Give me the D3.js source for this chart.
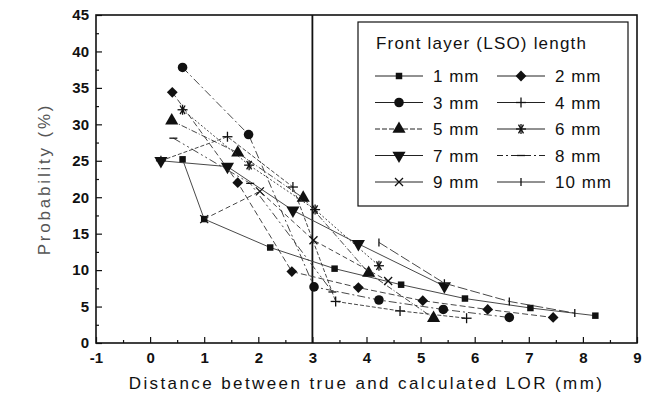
<!DOCTYPE html>
<html>
<head>
<meta charset="utf-8">
<script src="https://cdn.jsdelivr.net/npm/d3@7"></script>
<style>
  body { margin: 0; background: #fff; }
  svg { display: block; font-family: Arial, "Liberation Sans", sans-serif; }
</style>
</head>
<body>
<svg id="chart" width="654" height="407"></svg>
<script>
// 数据：每条曲线 [距离, 概率]
const mm1 = [[0.6, 25.2], [1.0, 17.0], [2.22, 13.1], [3.41, 10.2], [4.64, 8.0], [5.82, 6.1], [7.03, 4.8], [8.23, 3.75]]
const mm2 = [[0.41, 34.4], [1.62, 22.0], [2.62, 9.8], [3.85, 7.6], [5.04, 5.8], [6.24, 4.6], [7.45, 3.5]]
const mm3 = [[0.6, 37.8], [1.82, 28.6], [3.03, 7.7], [4.23, 5.9], [5.42, 4.6], [6.64, 3.5]]
const mm4 = [[0.2, 25.0], [1.43, 28.3], [2.64, 21.4], [3.43, 5.7], [4.62, 4.4], [5.85, 3.4]]
const mm5 = [[0.4, 30.5], [1.62, 26.1], [2.83, 19.9], [4.04, 9.6], [5.24, 3.4]]
const mm6 = [[0.6, 32.0], [1.83, 24.4], [3.05, 18.3], [4.23, 10.6]]
const mm7 = [[0.2, 25.0], [1.43, 24.2], [2.64, 18.2], [3.85, 13.6], [5.44, 7.8]]
const mm8 = [[0.43, 28.1], [1.85, 21.9], [3.37, 7.0]]
const mm9 = [[1.0, 17.0], [2.03, 20.8], [3.02, 14.1], [4.4, 8.5]]
const mm10 = [[4.23, 13.8], [5.44, 8.2], [6.64, 5.7], [7.85, 4.1]]

const seriesNames = ['1 mm', '2 mm', '3 mm', '4 mm', '5 mm', '6 mm', '7 mm', '8 mm', '9 mm', '10 mm']
const seriesData = [mm1, mm2, mm3, mm4, mm5, mm6, mm7, mm8, mm9, mm10]
const markers = ['square', 'diamond', 'circle', 'plus', 'up', 'star', 'down', 'dash', 'cross', 'bar']
// 图中线型（扫描件里多为虚线）
const dashes = ['none', '6,3', '8,3,2,3', '4,2', '6,2,1,2', '2,2', 'none', '8,3,2,3,2,3', '5,3', '10,3']
// 图例里的线型
const legendDashes = ['none', 'none', 'none', 'none', '5,2', 'none', 'none', '6,3,2,3', 'none', 'none']

const xTicks = d3.range(-1, 10)
const yTicks = d3.range(0, 50, 5)

const plotLeft = 96, plotRight = 637, plotTop = 15, plotBottom = 343

const svg = d3.select('#chart')
const x = d3.scaleLinear().domain([-1, 9]).range([plotLeft, plotRight])
const y = d3.scaleLinear().domain([0, 45]).range([plotBottom, plotTop])

// 画标记
function drawMarker(g, type, cx, cy) {
  const ink = '#111'
  if (type === 'square') {
    g.append('path').attr('d', d3.symbol(d3.symbolSquare, 42)()).attr('transform', `translate(${cx},${cy})`).attr('fill', ink)
  } else if (type === 'diamond') {
    g.append('path').attr('d', d3.symbol(d3.symbolSquare, 58)()).attr('transform', `translate(${cx},${cy}) rotate(45)`).attr('fill', ink)
  } else if (type === 'circle') {
    g.append('path').attr('d', d3.symbol(d3.symbolCircle, 72)()).attr('transform', `translate(${cx},${cy})`).attr('fill', ink)
  } else if (type === 'up') {
    g.append('path').attr('d', d3.symbol(d3.symbolTriangle, 75)()).attr('transform', `translate(${cx},${cy})`).attr('fill', ink)
  } else if (type === 'down') {
    g.append('path').attr('d', d3.symbol(d3.symbolTriangle, 75)()).attr('transform', `translate(${cx},${cy}) rotate(180)`).attr('fill', ink)
  } else {
    var segs = []
    if (type === 'plus') segs = [[-5, 0, 5, 0], [0, -5, 0, 5]]
    if (type === 'cross') segs = [[-4, -4, 4, 4], [-4, 4, 4, -4]]
    if (type === 'dash') segs = [[-4, 0, 4, 0]]
    if (type === 'bar') segs = [[0, -4, 0, 4]]
    if (type === 'star') segs = [[-5, 0, 5, 0], [-2.5, -4.3, 2.5, 4.3], [-2.5, 4.3, 2.5, -4.3], [0, -5, 0, 5]]
    segs.forEach((s) => {
      g.append('line')
        .attr('x1', cx + s[0]).attr('y1', cy + s[1])
        .attr('x2', cx + s[2]).attr('y2', cy + s[3])
        .attr('stroke', ink).attr('stroke-width', 1.3)
    })
  }
}

// 坐标轴（刻度朝内）
svg.append('g').attr('transform', `translate(0,${plotBottom})`)
  .call(d3.axisBottom(x).tickValues(xTicks).tickSize(-6).tickPadding(9).tickFormat((d) => String(d)))
svg.append('g').attr('transform', `translate(0,${plotBottom})`)
  .call(d3.axisBottom(x).tickValues(xTicks.slice(0, -1).map((d) => d + 0.5)).tickSize(-3).tickFormat(''))
svg.append('g').attr('transform', `translate(${plotLeft},0)`)
  .call(d3.axisLeft(y).tickValues(yTicks).tickSize(-6).tickPadding(7).tickFormat((d) => String(d)))
svg.append('g').attr('transform', `translate(${plotLeft},0)`)
  .call(d3.axisLeft(y).tickValues(yTicks.slice(0, -1).map((d) => d + 2.5)).tickSize(-3).tickFormat(''))

svg.selectAll('.domain').remove()
svg.selectAll('.tick line').attr('stroke', '#111').attr('stroke-width', 1.2)
svg.selectAll('.tick text').attr('fill', '#111').style('font-size', '15px').style('font-weight', 'bold')

// 边框
svg.append('rect')
  .attr('x', plotLeft).attr('y', plotTop)
  .attr('width', plotRight - plotLeft).attr('height', plotBottom - plotTop)
  .attr('fill', 'none').attr('stroke', '#111').attr('stroke-width', 1.6)

// x=3 的竖线
svg.append('line')
  .attr('x1', x(3)).attr('x2', x(3))
  .attr('y1', plotTop).attr('y2', plotBottom)
  .attr('stroke', '#111').attr('stroke-width', 1.8)

// 曲线
const line = d3.line().x((d) => x(d[0])).y((d) => y(d[1]))
const plot = svg.append('g')
seriesData.forEach((data, i) => {
  plot.append('path')
    .attr('d', line(data))
    .attr('fill', 'none')
    .attr('stroke', '#333')
    .attr('stroke-width', 0.9)
    .attr('stroke-dasharray', dashes[i] === 'none' ? null : dashes[i])
  data.forEach((d) => drawMarker(plot, markers[i], x(d[0]), y(d[1])))
})

// 图例
const legend = svg.append('g')
legend.append('rect')
  .attr('x', 358).attr('y', 22).attr('width', 270).attr('height', 184)
  .attr('fill', '#fff').attr('stroke', '#111').attr('stroke-width', 1.2)
legend.append('text')
  .attr('x', 376).attr('y', 49)
  .style('font-size', '17px').style('letter-spacing', '1.2px')
  .attr('fill', '#111')
  .text('Front layer (LSO) length')
seriesNames.forEach((name, i) => {
  var col = i % 2
  var row = Math.floor(i / 2)
  var ly = 76 + row * 26.5
  var lx = col === 0 ? 375 : 497
  legend.append('line')
    .attr('x1', lx).attr('x2', lx + 48)
    .attr('y1', ly).attr('y2', ly)
    .attr('stroke', '#222').attr('stroke-width', 1)
    .attr('stroke-dasharray', legendDashes[i] === 'none' ? null : legendDashes[i])
  drawMarker(legend, markers[i], lx + 24, ly)
  legend.append('text')
    .attr('x', lx + 58).attr('y', ly + 6)
    .style('font-size', '17px').style('letter-spacing', '1px')
    .attr('fill', '#111')
    .text(name)
})

// 轴标题
svg.append('text')
  .attr('x', (plotLeft + plotRight) / 2).attr('y', 389)
  .attr('text-anchor', 'middle')
  .style('font-size', '17px').style('letter-spacing', '2.4px')
  .attr('fill', '#111')
  .text('Distance between true and calculated LOR (mm)')

svg.append('text')
  .attr('transform', `translate(50,${(plotTop + plotBottom) / 2}) rotate(-90)`)
  .attr('text-anchor', 'middle')
  .style('font-size', '17px').style('letter-spacing', '2.8px')
  .attr('fill', '#555')
  .text('Probability (%)')
</script>
</body>
</html>
